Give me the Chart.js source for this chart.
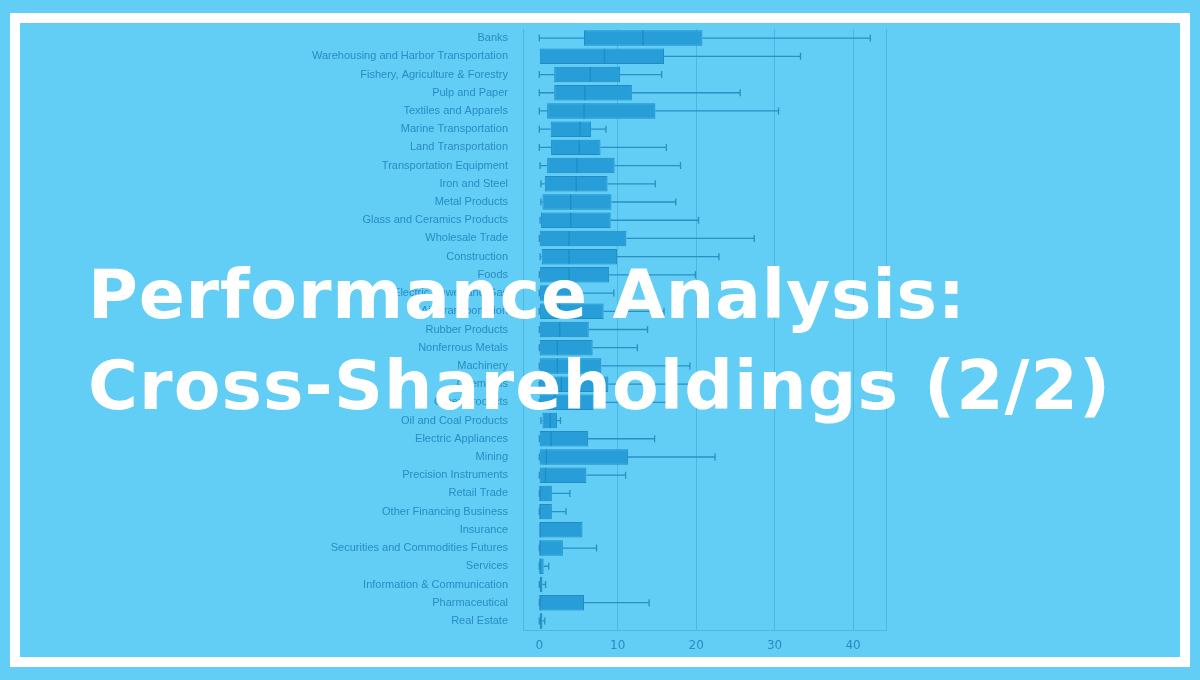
<!DOCTYPE html>
<html>
<head>
<meta charset="utf-8">
<script src="https://cdn.jsdelivr.net/npm/chart.js@4.4.1/dist/chart.umd.min.js"></script>
<style>
  html, body { margin: 0; padding: 0; background: #62cdf5; }
  #wrap { position: relative; width: 1200px; height: 680px; overflow: hidden; }
  #frame { position: absolute; left: 10px; top: 13px; width: 1160px; height: 634px; border: 10px solid #ffffff; }
  canvas { position: absolute; left: 0; top: 0; }
</style>
</head>
<body>
<div id="wrap">
  <div id="frame"></div>
  <canvas id="chart" width="1200" height="680"></canvas>
</div>
<script>
const categories = [
  "Banks", "Warehousing and Harbor Transportation", "Fishery, Agriculture & Forestry",
  "Pulp and Paper", "Textiles and Apparels", "Marine Transportation", "Land Transportation",
  "Transportation Equipment", "Iron and Steel", "Metal Products", "Glass and Ceramics Products",
  "Wholesale Trade", "Construction", "Foods", "Electric Power and Gas", "Air Transportation",
  "Rubber Products", "Nonferrous Metals", "Machinery", "Chemicals", "Other Products",
  "Oil and Coal Products", "Electric Appliances", "Mining", "Precision Instruments",
  "Retail Trade", "Other Financing Business", "Insurance", "Securities and Commodities Futures",
  "Services", "Information & Communication", "Pharmaceutical", "Real Estate"
];
const mins    = [0, 0, 0, 0, 0, 0, 0, 0.1, 0.2, 0.2, 0.1, 0, 0.1, 0, 0, 0, 0, 0, 0, 0, 0, 0.2, 0, 0, 0, 0, 0, 0, 0, 0, 0, 0, 0];
const q1s     = [5.7, 0, 1.9, 1.9, 1.0, 1.45, 1.5, 1.0, 0.7, 0.4, 0.2, 0.05, 0.3, 0.1, 0.1, 0.1, 0.05, 0.05, 0.05, 0.1, 0.05, 0.4, 0.05, 0.05, 0.05, 0.05, 0.05, 0, 0.05, 0.05, 0.05, 0.05, 0.05];
const medians = [13.2, 8.3, 6.5, 5.8, 5.7, 5.2, 5.1, 4.8, 4.7, 4.0, 4.0, 3.8, 3.8, 3.8, 1.5, 2.6, 2.6, 2.3, 2.3, 2.8, 2.0, 1.4, 1.5, 0.9, 0.8, 0.1, 0.1, 0.1, 0.1, 0.1, 0.2, 0.1, 0.2];
const q3s     = [20.8, 15.9, 10.3, 11.8, 14.8, 6.6, 7.8, 9.6, 8.7, 9.2, 9.1, 11.1, 9.9, 8.9, 5.0, 8.2, 6.3, 6.8, 7.9, 8.8, 6.9, 2.25, 6.2, 11.3, 6.0, 1.6, 1.6, 5.5, 3.0, 0.55, 0.4, 5.7, 0.4];
const maxs    = [42.2, 33.3, 15.6, 25.6, 30.5, 8.5, 16.2, 18.0, 14.8, 17.4, 20.3, 27.4, 22.9, 19.9, 9.5, 15.9, 13.8, 12.5, 19.2, 19.5, 16.3, 2.7, 14.7, 22.4, 11.0, 3.9, 3.4, 5.5, 7.3, 1.2, 0.8, 14.0, 0.7];
const xTicks = [0, 10, 20, 30, 40];
const titleLines = ["Performance Analysis:", "Cross-Shareholdings (2/2)"];

const boxFill = "#279ed7";
const boxEdge = "#1f8cc4";
const whiskerColor = "#2a8fc3";
const textColor = "#2a8cc2";
const gridColor = "#4db7e2";
const xMin = -2.08, xMax = 44.2;

const whiskers = {
  id: "whiskers",
  afterDatasetsDraw(chart) {
    const ctx = chart.ctx;
    const x = chart.scales.x, y = chart.scales.y;
    ctx.save();
    ctx.lineWidth = 1.3;
    categories.forEach((c, i) => {
      const py = y.getPixelForValue(i);
      const pMin = x.getPixelForValue(mins[i]);
      const pQ1 = x.getPixelForValue(q1s[i]);
      const pQ3 = x.getPixelForValue(q3s[i]);
      const pMax = x.getPixelForValue(maxs[i]);
      const pMed = x.getPixelForValue(medians[i]);
      ctx.strokeStyle = whiskerColor;
      ctx.beginPath();
      if (q1s[i] > mins[i]) {
        ctx.moveTo(pMin, py); ctx.lineTo(pQ1, py);
        ctx.moveTo(pMin, py - 3.5); ctx.lineTo(pMin, py + 3.5);
      }
      if (maxs[i] > q3s[i]) {
        ctx.moveTo(pQ3, py); ctx.lineTo(pMax, py);
        ctx.moveTo(pMax, py - 3.5); ctx.lineTo(pMax, py + 3.5);
      }
      ctx.stroke();
      ctx.strokeStyle = boxEdge;
      ctx.beginPath();
      ctx.moveTo(pMed, py - 7.5); ctx.lineTo(pMed, py + 7.5);
      ctx.stroke();
    });
    ctx.restore();
  }
};

// big white heading laid over the plot
const title = {
  id: "title",
  afterDraw(chart) {
    const ctx = chart.ctx;
    ctx.save();
    ctx.fillStyle = "#ffffff";
    ctx.font = "bold 68px 'DejaVu Sans'";
    ctx.textBaseline = "alphabetic";
    const targets = [877, 1022];
    const baselines = [318, 409];
    titleLines.forEach((t, i) => {
      ctx.letterSpacing = "0px";
      const w = ctx.measureText(t).width;
      ctx.letterSpacing = ((targets[i] - w) / (t.length - 1)) + "px";
      ctx.fillText(t, 88, baselines[i]);
    });
    ctx.restore();
  }
};

new Chart(document.getElementById("chart"), {
  type: "bar",
  data: {
    labels: categories,
    datasets: [{
      data: q1s.map((v, i) => [v, q3s[i]]),
      backgroundColor: boxFill,
      borderColor: boxEdge,
      borderWidth: 1,
      borderSkipped: false,
      barPercentage: 0.85,
      categoryPercentage: 1.0
    }]
  },
  options: {
    indexAxis: "y",
    responsive: false,
    animation: false,
    layout: { padding: { left: 0, right: 314, top: 29, bottom: 20 } },
    plugins: { legend: { display: false }, tooltip: { enabled: false } },
    scales: {
      y: {
        afterFit(scale) { scale.width = 523; },
        grid: { display: false, drawTicks: false },
        border: { display: true, color: gridColor },
        ticks: { color: textColor, padding: 15, font: { family: "'Liberation Sans', Arial", size: 11 } }
      },
      x: {
        min: xMin,
        max: xMax,
        afterBuildTicks(scale) {
          scale.ticks = xTicks.concat([xMax]).map(v => ({ value: v }));
        },
        afterFit(scale) { scale.height = 30; },
        grid: {
          drawTicks: false,
          color: (c) => (c.tick && c.tick.value === 0 ? "rgba(0,0,0,0)" : gridColor)
        },
        border: { display: true, color: gridColor },
        ticks: {
          color: textColor,
          padding: 9,
          font: { family: "'DejaVu Sans'", size: 12 },
          callback: (v, idx) => (idx < xTicks.length ? xTicks[idx] : "")
        }
      }
    }
  },
  plugins: [whiskers, title]
});
</script>
</body>
</html>
